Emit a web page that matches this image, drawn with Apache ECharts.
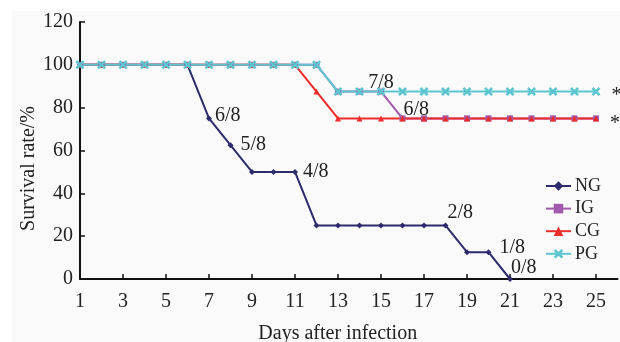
<!DOCTYPE html>
<html>
<head>
<meta charset="utf-8">
<script src="https://cdn.jsdelivr.net/npm/echarts@6/dist/echarts.min.js"></script>
<style>html,body{margin:0;padding:0;background:#fff;}#c{width:620px;height:342px;}</style>
</head>
<body>
<div id="c"></div>
<script>
const days = [1,2,3,4,5,6,7,8,9,10,11,12,13,14,15,16,17,18,19,20,21,22,23,24,25];
const seriesNames = ['NG','IG','CG','PG'];
const ng = [100,100,100,100,100,100,75,62.5,50,50,50,25,25,25,25,25,25,25,12.5,12.5,0];
const ig = [100,100,100,100,100,100,100,100,100,100,100,100,87.5,87.5,87.5,75,75,75,75,75,75,75,75,75,75];
const cg = [100,100,100,100,100,100,100,100,100,100,100,87.5,75,75,75,75,75,75,75,75,75,75,75,75,75];
const pg = [100,100,100,100,100,100,100,100,100,100,100,100,87.5,87.5,87.5,87.5,87.5,87.5,87.5,87.5,87.5,87.5,87.5,87.5,87.5];
const yTicks = {min:0, max:120, step:20};
const ngNotes = {7:'6/8', 8:'5/8', 11:'4/8', 18:'2/8', 20:'1/8', 21:'0/8'};
const igNotes = {16:'6/8'};
const cgNotes = {25:'*'};
const pgNotes = {15:'7/8', 25:'*'};
const xName = 'Days after infection';
const yName = 'Survival rate/%';

const FONT = 'Liberation Serif';
const labelStyles = {
  NG: {7:{position:'right',offset:[-2,-3]}, 8:{position:'right',offset:[2,0]}, 11:{position:'right',offset:[0,0]},
       18:{position:'right',offset:[-6,-12.5]}, 20:{position:'right',offset:[3,-4]}, 21:{position:'right',offset:[-7,-11]}},
  IG: {16:{position:'right',offset:[-7,-9]}},
  CG: {25:{position:'right',offset:[6,5]}},
  PG: {15:{position:'top',offset:[0,11]}, 25:{position:'right',offset:[6,4]}}
};
function build(name, vals, notes){
  return vals.map((v,i)=>{
    const d = days[i];
    if (notes[d] !== undefined){
      const st = labelStyles[name][d];
      return {value:v, label:{show:true, formatter:notes[d], position:st.position, offset:st.offset, distance:5,
        fontFamily:FONT, fontSize:20, color:'#222'}};
    }
    return v;
  });
}
const colors = {NG:'#2c2b6b', IG:'#a159ab', CG:'#ee2b2b', PG:'#5cc5cf'};
const symbols = {NG:'diamond', IG:'rect', CG:'triangle', PG:'path://M0,2L2,0L5,3L8,0L10,2L7,5L10,8L8,10L5,7L2,10L0,8L3,5Z'};
const sizes = {NG:6, IG:6, CG:6, PG:9};
const dataMap = {NG:[ng,ngNotes], IG:[ig,igNotes], CG:[cg,cgNotes], PG:[pg,pgNotes]};

const chart = echarts.init(document.getElementById('c'));
chart.setOption({
  backgroundColor:'#ffffff',
  animation:false,
  graphic:[{type:'rect', z:-10, silent:true, shape:{x:12,y:11,width:608,height:331}, style:{fill:'#fafafa'}}],
  grid:{left:80, right:2.5, top:22, bottom:63, containLabel:false, outerBoundsMode:'none'},
  legend:{
    orient:'vertical', left:545, top:177, padding:0, itemWidth:25, itemHeight:12, itemGap:4.6,
    data:seriesNames,
    textStyle:{fontFamily:FONT, fontSize:18, color:'#222', lineHeight:18, padding:[0,0,0,-1]}
  },
  xAxis:{
    type:'category', boundaryGap:false, data:days.concat(['']),
    axisLine:{lineStyle:{color:'#111', width:2}},
    axisTick:{inside:true, length:5, interval:1, lineStyle:{color:'#111', width:1.5}},
    axisLabel:{interval:1, fontFamily:FONT, fontSize:20, color:'#222', margin:13},
    name:xName, nameLocation:'middle', nameGap:44.5, nameMoveOverlap:false,
    nameTextStyle:{fontFamily:FONT, fontSize:20, color:'#222', padding:[0,22,0,0]}
  },
  yAxis:{
    type:'value', min:yTicks.min, max:yTicks.max, interval:yTicks.step,
    axisLine:{show:true, lineStyle:{color:'#111', width:2}},
    axisTick:{show:true, inside:true, length:5, lineStyle:{color:'#111', width:1.5}},
    splitLine:{show:false},
    axisLabel:{fontFamily:FONT, fontSize:20, color:'#222', margin:7, padding:[6,0,0,0]},
    name:yName, nameLocation:'middle', nameGap:41, nameMoveOverlap:false,
    nameTextStyle:{fontFamily:FONT, fontSize:20, color:'#222', padding:[0,36,0,0]}
  },
  series: seriesNames.map(n=>({
    name:n, type:'line', data:build(n, dataMap[n][0], dataMap[n][1]),
    symbol:symbols[n], symbolSize:sizes[n], showAllSymbol:true,
    lineStyle:{color:colors[n], width:2}, itemStyle:{color:colors[n]},
    emphasis:{disabled:true}
  }))
});
</script>
</body>
</html>
